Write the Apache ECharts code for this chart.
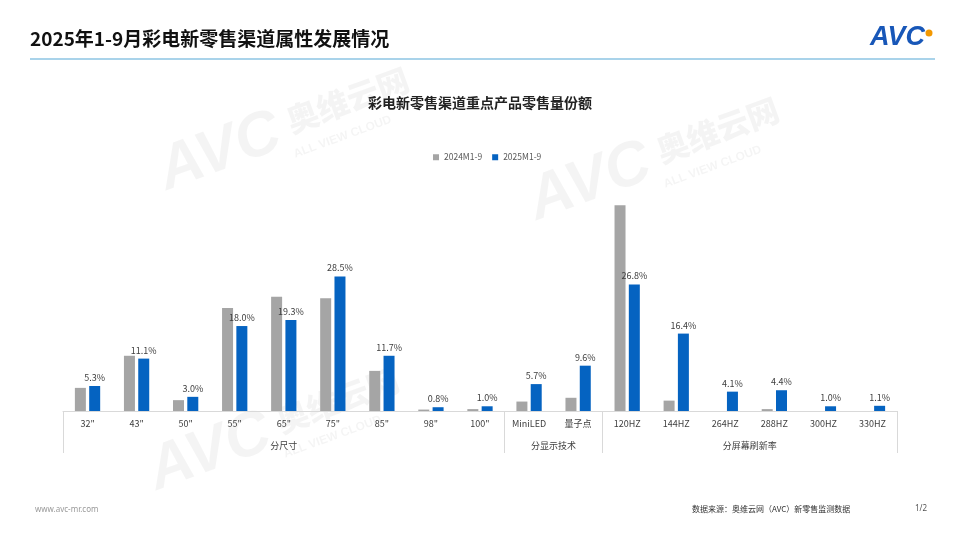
<!DOCTYPE html>
<html><head><meta charset="utf-8">
<script src="https://cdn.jsdelivr.net/npm/echarts@6/dist/echarts.min.js"></script>
<style>html,body{margin:0;padding:0;background:#fff}#c{width:960px;height:540px}</style>
</head><body><div id="c"></div>
<script>
var categories = ['32"','43"','50"','55"','65"','75"','85"','98"','100"','MiniLED','量子点','120HZ','144HZ','264HZ','288HZ','300HZ','330HZ'];
var series2024 = [4.9,11.7,2.3,21.8,24.2,23.9,8.5,0.3,0.4,2.0,2.8,43.6,2.2,0,0.4,0,0];
var series2025 = [5.3,11.1,3.0,18.0,19.3,28.5,11.7,0.8,1.0,5.7,9.6,26.8,16.4,4.1,4.4,1.0,1.1];
var groupNames = ['分尺寸','分显示技术','分屏幕刷新率'];
var groupCenters = [4, 9.5, 13.5];
var groupBounds = [-0.5, 8.5, 10.5, 16.5];
var legendNames = ['2024M1-9','2025M1-9'];

var FONT = '"Noto Sans CJK SC","Noto Sans",sans-serif';
var chart = echarts.init(document.getElementById('c'), null, {renderer:'canvas'});
var wm = 'rgba(0,0,0,0.045)';
function wmark(x,y,s){
  return [
    {type:'text', x:x, y:y, rotation:0.35, style:{text:'AVC', font:'italic 900 '+(62*s)+'px "Liberation Sans"', fill:wm}, silent:true, z:0},
    {type:'text', x:x+132*s, y:y-38*s, rotation:0.35, style:{text:'奥维云网', font:'900 '+(32*s)+'px "Noto Sans CJK SC"', fill:wm}, silent:true, z:0},
    {type:'text', x:x+142*s, y:y+4*s, rotation:0.35, style:{text:'ALL VIEW CLOUD', font:'700 '+(12*s)+'px "Liberation Sans"', fill:wm}, silent:true, z:0}
  ];
}
var graphics = [].concat(
  wmark(150,145,1), wmark(520,175,1), wmark(140,445,1),
  [
  {type:'text', left:30, top:29, style:{text:'2025年1-9月彩电新零售渠道属性发展情况', font:'bold 19px "Noto Sans CJK SC"', fill:'#111'}},
  {type:'rect', shape:{x:30,y:58,width:905,height:2}, style:{fill:'#a9d3ea'}},
  {type:'text', left:870, top:24, style:{text:'AVC', font:'italic 900 27px "Liberation Sans"', fill:'#1857b8'}},
  {type:'circle', shape:{cx:929, cy:33, r:3.5}, style:{fill:'#f39800'}},
  {type:'text', left:'center', top:96, style:{text:'彩电新零售渠道重点产品零售量份额', font:'bold 14px "Noto Sans CJK SC"', fill:'#222'}},
  {type:'text', left:35, top:506, style:{text:'www.avc-mr.com', font:'8px "Noto Sans"', fill:'#999'}},
  {type:'text', left:692, top:505, style:{text:'数据来源：奥维云网（AVC）新零售监测数据', font:'8px "Noto Sans CJK SC"', fill:'#333'}},
  {type:'text', left:915, top:505, style:{text:'1/2', font:'8px "Noto Sans"', fill:'#555'}}
  ]);

chart.setOption({
  animation:false,
  textStyle:{fontFamily:FONT},
  color:['#a5a5a5','#0563c1'],
  legend:{data:legendNames, top:148, left:428, itemWidth:6, itemHeight:6, itemGap:10,
    icon:'rect', textStyle:{fontSize:8.5, color:'#595959'}},
  grid:{left:63, right:63, top:175, bottom:129},
  xAxis:[
    {type:'category', data:categories, axisLine:{lineStyle:{color:'#d9d9d9'}}, axisTick:{show:false},
     axisLabel:{fontSize:9, color:'#404040', margin:8, interval:0}},
    {type:'value', position:'bottom', min:-0.5, max:16.5, splitLine:{show:false},
     axisLine:{show:false},
     axisTick:{show:true, customValues:groupBounds, length:42, lineStyle:{color:'#d9d9d9'}},
     axisLabel:{show:true, customValues:groupCenters, margin:30, fontSize:9, color:'#404040',
       formatter:function(v){var i=groupCenters.indexOf(v);return i>=0?groupNames[i]:'';}}}
  ],
  yAxis:{type:'value', min:0, max:50, show:false, splitLine:{show:false}},
  series:[
    {name:legendNames[0], type:'bar', data:series2024, barWidth:11, barGap:'30%', xAxisIndex:0, z:3},
    {name:legendNames[1], type:'bar', data:series2025, barWidth:11, xAxisIndex:0, z:3,
     label:{show:true, position:'top', distance:4, fontSize:9, color:'#404040',
       formatter:function(p){return p.value.toFixed(1)+'%';}}}
  ],
  graphic:graphics
});
</script></body></html>
